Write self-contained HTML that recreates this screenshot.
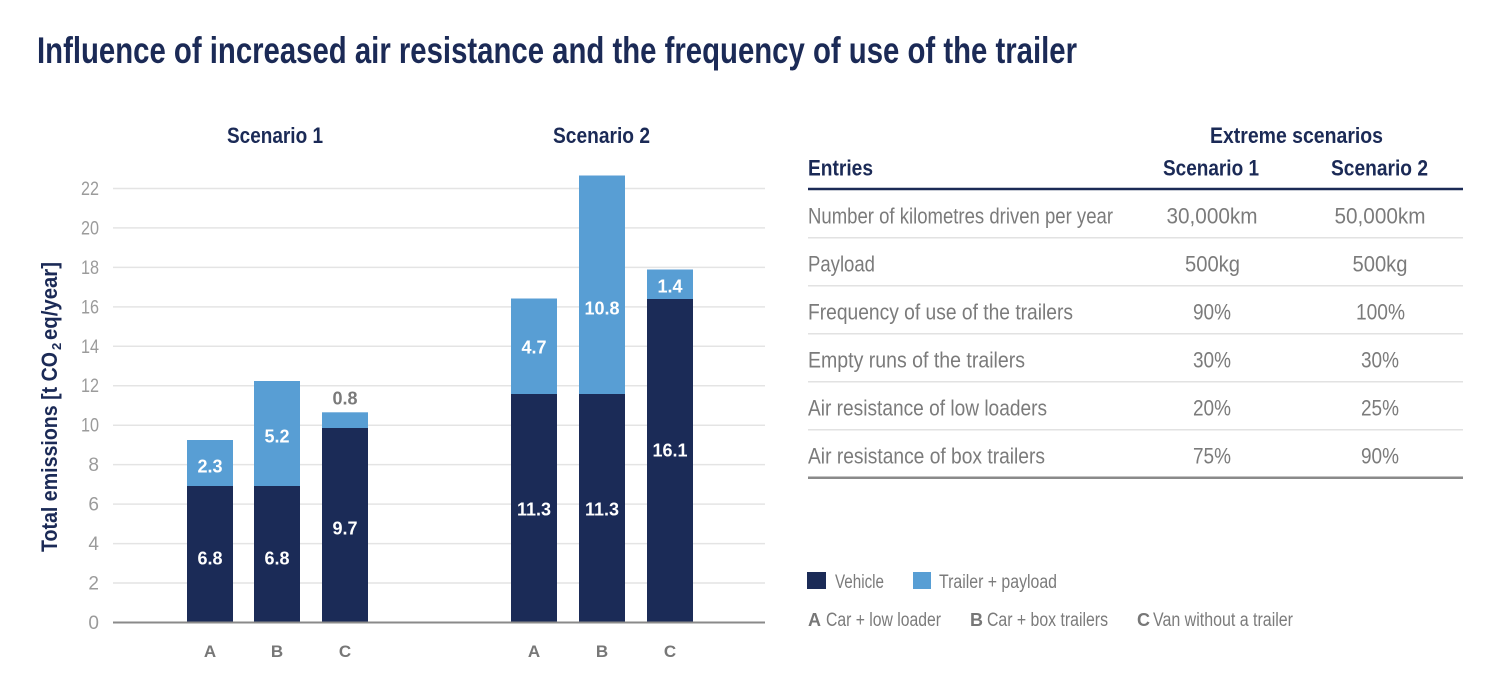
<!DOCTYPE html>
<html>
<head>
<meta charset="utf-8">
<style>
  html, body { margin: 0; padding: 0; background: #ffffff; }
  svg { display: block; }
  text { font-family: "Liberation Sans Narrow", "Liberation Sans", sans-serif; }
  .navy { fill: #1b2a56; font-weight: bold; }
  .tick { fill: #9b9b9b; font-size: 19px; }
  .row { fill: #7b7b7b; font-size: 22px; }
  .val { fill: #7b7b7b; font-size: 22px; text-anchor: middle; }
  .bl { fill: #ffffff; font-weight: bold; font-size: 18px; text-anchor: middle; }
  .cat { fill: #777777; font-weight: bold; font-size: 17px; text-anchor: middle; }
  .leg { fill: #7b7b7b; font-size: 19px; }
</style>
</head>
<body>
<svg width="1500" height="693" viewBox="0 0 1500 693" xmlns="http://www.w3.org/2000/svg">
  <rect width="1500" height="693" fill="#ffffff"/>

  <!-- Title -->
  <text x="37" y="63" class="navy" font-size="37" textLength="1040" lengthAdjust="spacingAndGlyphs">Influence of increased air resistance and the frequency of use of the trailer</text>

  <!-- Scenario headers -->
  <text x="227" y="143" class="navy" font-size="22" textLength="96" lengthAdjust="spacingAndGlyphs">Scenario 1</text>
  <text x="553" y="143" class="navy" font-size="22" textLength="97" lengthAdjust="spacingAndGlyphs">Scenario 2</text>

  <!-- Grid lines -->
  <g stroke="#e4e4e4" stroke-width="1.5">
    <line x1="113" y1="583.04" x2="765" y2="583.04"/>
    <line x1="113" y1="543.58" x2="765" y2="543.58"/>
    <line x1="113" y1="504.12" x2="765" y2="504.12"/>
    <line x1="113" y1="464.66" x2="765" y2="464.66"/>
    <line x1="113" y1="425.2" x2="765" y2="425.2"/>
    <line x1="113" y1="385.74" x2="765" y2="385.74"/>
    <line x1="113" y1="346.28" x2="765" y2="346.28"/>
    <line x1="113" y1="306.82" x2="765" y2="306.82"/>
    <line x1="113" y1="267.36" x2="765" y2="267.36"/>
    <line x1="113" y1="227.9" x2="765" y2="227.9"/>
    <line x1="113" y1="188.44" x2="765" y2="188.44"/>
  </g>

  <!-- Y tick labels -->
  <g class="tick" text-anchor="end">
    <text x="99" y="629">0</text>
    <text x="99" y="589.5">2</text>
    <text x="99" y="550">4</text>
    <text x="99" y="510.6">6</text>
    <text x="99" y="471.2">8</text>
    <text x="99" y="431.7" textLength="18" lengthAdjust="spacingAndGlyphs">10</text>
    <text x="99" y="392.2" textLength="18" lengthAdjust="spacingAndGlyphs">12</text>
    <text x="99" y="352.8" textLength="18" lengthAdjust="spacingAndGlyphs">14</text>
    <text x="99" y="313.3" textLength="18" lengthAdjust="spacingAndGlyphs">16</text>
    <text x="99" y="273.9" textLength="18" lengthAdjust="spacingAndGlyphs">18</text>
    <text x="99" y="234.4" textLength="18" lengthAdjust="spacingAndGlyphs">20</text>
    <text x="99" y="194.9" textLength="18" lengthAdjust="spacingAndGlyphs">22</text>
  </g>

  <!-- Y axis title -->
  <g transform="translate(57,552) rotate(-90)">
    <text x="0" y="0" class="navy" font-size="22" textLength="200" lengthAdjust="spacingAndGlyphs">Total emissions  [t CO</text>
    <text x="202" y="4" class="navy" font-size="13">2</text>
    <text x="212" y="0" class="navy" font-size="22" textLength="78" lengthAdjust="spacingAndGlyphs">eq/year]</text>
  </g>

  <!-- Bars: Scenario 1 -->
  <rect x="187" y="440" width="46" height="46" fill="#589ed4"/>
  <rect x="187" y="486" width="46" height="136.5" fill="#1b2b57"/>
  <rect x="254" y="381" width="46" height="105" fill="#589ed4"/>
  <rect x="254" y="486" width="46" height="136.5" fill="#1b2b57"/>
  <rect x="322" y="412.3" width="46" height="15.7" fill="#589ed4"/>
  <rect x="322" y="428" width="46" height="194.5" fill="#1b2b57"/>

  <!-- Bars: Scenario 2 -->
  <rect x="511" y="298.5" width="46" height="95.5" fill="#589ed4"/>
  <rect x="511" y="394" width="46" height="228.5" fill="#1b2b57"/>
  <rect x="579" y="175.5" width="46" height="218.5" fill="#589ed4"/>
  <rect x="579" y="394" width="46" height="228.5" fill="#1b2b57"/>
  <rect x="647" y="269.5" width="46" height="29.5" fill="#589ed4"/>
  <rect x="647" y="299" width="46" height="323.5" fill="#1b2b57"/>

  <!-- Axis line -->
  <line x1="113" y1="622.5" x2="765" y2="622.5" stroke="#8a8a8a" stroke-width="2"/>

  <!-- Bar labels -->
  <text x="210" y="472.5" class="bl">2.3</text>
  <text x="210" y="564.5" class="bl">6.8</text>
  <text x="277" y="442.5" class="bl">5.2</text>
  <text x="277" y="564.5" class="bl">6.8</text>
  <text x="345" y="534.5" class="bl">9.7</text>
  <text x="345" y="404.5" class="bl" style="fill:#7a7a7a">0.8</text>

  <text x="534" y="353.5" class="bl">4.7</text>
  <text x="534" y="515.5" class="bl">11.3</text>
  <text x="602" y="314.5" class="bl">10.8</text>
  <text x="602" y="515.5" class="bl">11.3</text>
  <text x="670" y="292.5" class="bl">1.4</text>
  <text x="670" y="456.5" class="bl">16.1</text>

  <!-- Category labels -->
  <text x="210" y="657" class="cat">A</text>
  <text x="277" y="657" class="cat">B</text>
  <text x="345" y="657" class="cat">C</text>
  <text x="534" y="657" class="cat">A</text>
  <text x="602" y="657" class="cat">B</text>
  <text x="670" y="657" class="cat">C</text>

  <!-- Table header -->
  <text x="1210" y="143" class="navy" font-size="22" textLength="173" lengthAdjust="spacingAndGlyphs">Extreme scenarios</text>
  <text x="808" y="175.5" class="navy" font-size="22" textLength="65" lengthAdjust="spacingAndGlyphs">Entries</text>
  <text x="1163" y="175.5" class="navy" font-size="22" textLength="96" lengthAdjust="spacingAndGlyphs">Scenario 1</text>
  <text x="1331" y="175.5" class="navy" font-size="22" textLength="97" lengthAdjust="spacingAndGlyphs">Scenario 2</text>
  <line x1="808" y1="189" x2="1463" y2="189" stroke="#1b2a56" stroke-width="2.5"/>

  <!-- Row separators -->
  <g stroke="#e2e2e2" stroke-width="1.5">
    <line x1="808" y1="237.7" x2="1463" y2="237.7"/>
    <line x1="808" y1="285.7" x2="1463" y2="285.7"/>
    <line x1="808" y1="333.7" x2="1463" y2="333.7"/>
    <line x1="808" y1="381.7" x2="1463" y2="381.7"/>
    <line x1="808" y1="429.7" x2="1463" y2="429.7"/>
  </g>
  <line x1="808" y1="477.7" x2="1463" y2="477.7" stroke="#8a8a8a" stroke-width="2.5"/>

  <!-- Rows -->
  <text x="808" y="223.3" class="row" textLength="305" lengthAdjust="spacingAndGlyphs">Number of kilometres driven per year</text>
  <text x="808" y="271.3" class="row" textLength="67" lengthAdjust="spacingAndGlyphs">Payload</text>
  <text x="808" y="319.3" class="row" textLength="265" lengthAdjust="spacingAndGlyphs">Frequency of use of the trailers</text>
  <text x="808" y="367.3" class="row" textLength="217" lengthAdjust="spacingAndGlyphs">Empty runs of the trailers</text>
  <text x="808" y="415.3" class="row" textLength="239" lengthAdjust="spacingAndGlyphs">Air resistance of low loaders</text>
  <text x="808" y="463.3" class="row" textLength="237" lengthAdjust="spacingAndGlyphs">Air resistance of box trailers</text>

  <text x="1212" y="223.3" class="val" textLength="91" lengthAdjust="spacingAndGlyphs">30,000km</text>
  <text x="1380" y="223.3" class="val" textLength="91" lengthAdjust="spacingAndGlyphs">50,000km</text>
  <text x="1212.5" y="271.3" class="val" textLength="55" lengthAdjust="spacingAndGlyphs">500kg</text>
  <text x="1380" y="271.3" class="val" textLength="55" lengthAdjust="spacingAndGlyphs">500kg</text>
  <text x="1212" y="319.3" class="val" textLength="38" lengthAdjust="spacingAndGlyphs">90%</text>
  <text x="1380.5" y="319.3" class="val" textLength="49" lengthAdjust="spacingAndGlyphs">100%</text>
  <text x="1212" y="367.3" class="val" textLength="38" lengthAdjust="spacingAndGlyphs">30%</text>
  <text x="1380" y="367.3" class="val" textLength="38" lengthAdjust="spacingAndGlyphs">30%</text>
  <text x="1212" y="415.3" class="val" textLength="38" lengthAdjust="spacingAndGlyphs">20%</text>
  <text x="1380" y="415.3" class="val" textLength="38" lengthAdjust="spacingAndGlyphs">25%</text>
  <text x="1212" y="463.3" class="val" textLength="38" lengthAdjust="spacingAndGlyphs">75%</text>
  <text x="1380" y="463.3" class="val" textLength="38" lengthAdjust="spacingAndGlyphs">90%</text>

  <!-- Legend -->
  <rect x="807" y="572" width="19" height="17" fill="#1b2b57"/>
  <text x="835" y="588" class="leg" textLength="49" lengthAdjust="spacingAndGlyphs">Vehicle</text>
  <rect x="913" y="572" width="18" height="17" fill="#589ed4"/>
  <text x="939" y="588" class="leg" textLength="118" lengthAdjust="spacingAndGlyphs">Trailer + payload</text>

  <text x="808" y="626" fill="#777777" font-weight="bold" font-size="18">A</text>
  <text x="826" y="626" class="leg" textLength="115" lengthAdjust="spacingAndGlyphs">Car + low loader</text>
  <text x="970" y="626" fill="#777777" font-weight="bold" font-size="18">B</text>
  <text x="987" y="626" class="leg" textLength="121" lengthAdjust="spacingAndGlyphs">Car + box trailers</text>
  <text x="1137" y="626" fill="#777777" font-weight="bold" font-size="18">C</text>
  <text x="1153" y="626" class="leg" textLength="140" lengthAdjust="spacingAndGlyphs">Van without a trailer</text>
</svg>
</body>
</html>
